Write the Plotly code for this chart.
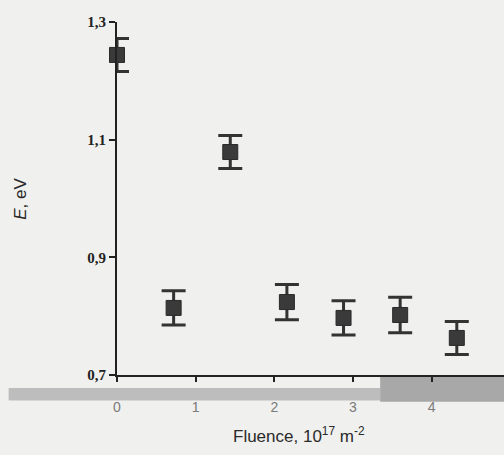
import plotly.graph_objects as go

fluence = [0.0, 0.72, 1.44, 2.16, 2.88, 3.60, 4.32]
energy = [1.244, 0.814, 1.079, 0.824, 0.797, 0.802, 0.763]
energy_err = [0.028, 0.029, 0.028, 0.030, 0.029, 0.030, 0.028]

x_ticks = [0, 1, 2, 3, 4]
y_ticks = [0.7, 0.9, 1.1, 1.3]

fig = go.Figure()
fig.add_trace(go.Scatter(
    x=fluence, y=energy, mode="markers",
    marker=dict(symbol="square", size=15, color="#3a3a3a",
                line=dict(color="#2a2a2a", width=1)),
    error_y=dict(type="data", array=energy_err, visible=True,
                 color="#333333", thickness=3, width=12),
    cliponaxis=False, showlegend=False,
))

# scan band under the x axis
fig.add_shape(type="rect", xref="paper", yref="paper",
              x0=-0.28, x1=0.68, y0=-0.072, y1=-0.037,
              fillcolor="#bdbdbd", line=dict(width=0), layer="below")
fig.add_shape(type="rect", xref="paper", yref="paper",
              x0=0.68, x1=1.0, y0=-0.076, y1=-0.004,
              fillcolor="#a8a8a8", line=dict(width=0), layer="below")

fig.add_annotation(text="<i>E</i>, eV", xref="paper", yref="paper",
                   x=-0.25, y=0.50, textangle=-90, showarrow=False,
                   xanchor="center", yanchor="middle",
                   font=dict(family="Arial", size=17, color="#2a2a2a"))
fig.add_annotation(text="Fluence, 10<sup>17</sup> m<sup>-2</sup>", xref="paper", yref="paper",
                   x=0.47, y=-0.17, showarrow=False,
                   xanchor="center", yanchor="middle",
                   font=dict(family="Arial", size=17, color="#2a2a2a"))

fig.update_layout(
    width=504, height=455,
    margin=dict(l=117, r=0, t=22, b=80),
    paper_bgcolor="#f0f0ee", plot_bgcolor="#f0f0ee",
    separators=", ",
    font=dict(family="Arial", color="#222222"),
    xaxis=dict(
        range=[0, 4.92], tickvals=x_ticks, ticktext=[str(v) for v in x_ticks],
        automargin=False,
        showgrid=False, zeroline=False, showline=True, linecolor="#222222",
        linewidth=2, ticks="outside", ticklen=5, tickwidth=2, tickcolor="#222222",
        tickfont=dict(family="Arial", size=14, color="#7a7a7a"),
        ticklabelstandoff=13,
    ),
    yaxis=dict(
        range=[0.7, 1.3], tickvals=y_ticks, tickformat=".1f",
        automargin=False,
        showgrid=False, zeroline=False, showline=True, linecolor="#222222",
        linewidth=2, ticks="outside", ticklen=6, tickwidth=2, tickcolor="#222222",
        tickfont=dict(family="Liberation Serif", size=15, color="#222222", weight="bold"),
    ),
)

fig.write_html("out.html", config={"displayModeBar": False},
               post_script="document.body.style.margin='0';document.body.style.background='#f0f0ee';")
